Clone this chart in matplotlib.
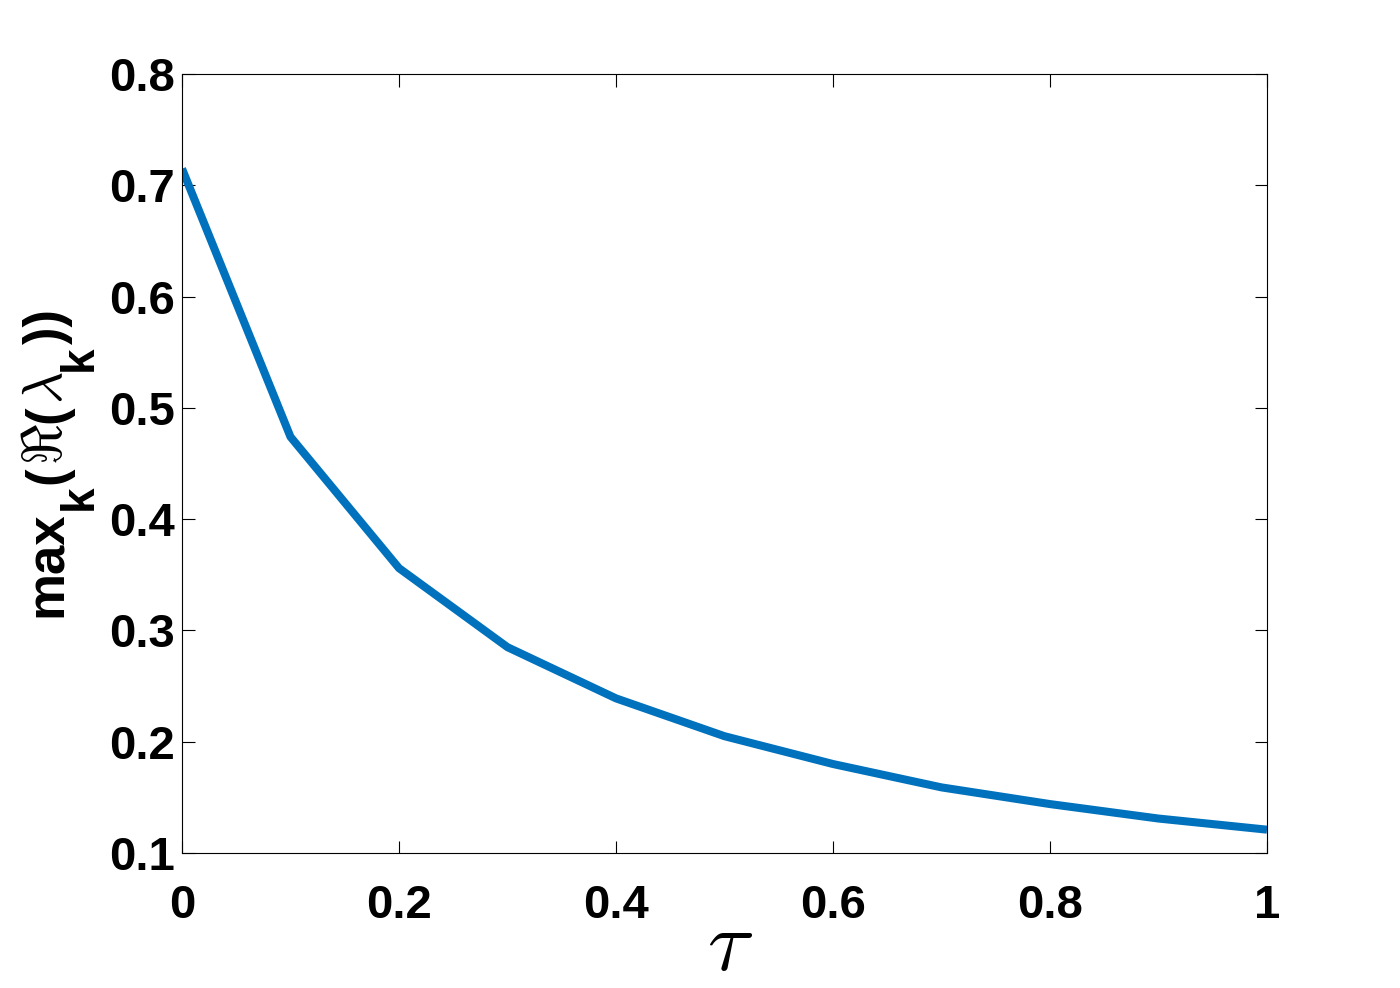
import numpy as np
import matplotlib
matplotlib.use('Agg')
import matplotlib.pyplot as plt

# values
tau = [0.0, 0.1, 0.2, 0.3, 0.4, 0.5, 0.6, 0.7, 0.8, 0.9, 1.0]
max_re = [0.715, 0.474, 0.356, 0.285, 0.239, 0.205, 0.180, 0.159, 0.144, 0.131, 0.121]
xticks = [0, 0.2, 0.4, 0.6, 0.8, 1]
xtick_labels = ['0', '0.2', '0.4', '0.6', '0.8', '1']
yticks = [0.1, 0.2, 0.3, 0.4, 0.5, 0.6, 0.7, 0.8]

plt.rcParams['font.family'] = 'Liberation Sans'
plt.rcParams['font.weight'] = 'bold'

W, H = 1400, 988
fig = plt.figure(figsize=(W / 100, H / 100), dpi=100)
ax = fig.add_axes([0.13, 0.1366, 0.775, 0.7884])

ax.plot(tau, max_re, color='#0072BD', linewidth=5.8, solid_capstyle='butt')

ax.set_xlim(0, 1)
ax.set_ylim(0.1, 0.8)
ax.set_xticks(xticks)
ax.set_xticklabels(xtick_labels)
ax.set_yticks(yticks)
ax.tick_params(direction='in', length=9, width=0.8, top=True, right=True,
               labelsize=34)
ax.tick_params(axis='x', pad=22)
ax.tick_params(axis='y', pad=5)
for s in ax.spines.values():
    s.set_linewidth(0.8)

# x label
ax.set_xlabel(r'$\tau$', fontsize=62, math_fontfamily='cm')
ax.xaxis.set_label_coords(0.505, -0.07)

# y label built from pieces (MATLAB style: full size, dropped subscripts)
renderer = fig.canvas.get_renderer()
pieces = [('max', 38, 0, None), ('k', 33, 30, None), ('(', 38, 0, None),
          (r'$\Re$', 40, 0, 'cm'), ('(', 38, 0, None), (r'$\lambda$', 40, 0, 'cm'),
          ('k', 33, 30, None), ('))', 38, 0, None)]
base_x = 62
y = H - 617
for s, fs, drop, mff in pieces:
    kw = {}
    if mff:
        kw['math_fontfamily'] = mff
    t = fig.text((base_x + drop) / W, y / H, s, fontsize=fs, fontweight='bold',
                 rotation=90, rotation_mode='anchor', ha='left', va='baseline', **kw)
    bb = t.get_window_extent(renderer)
    y += bb.height + 1

plt.savefig('out.png', dpi=100)
